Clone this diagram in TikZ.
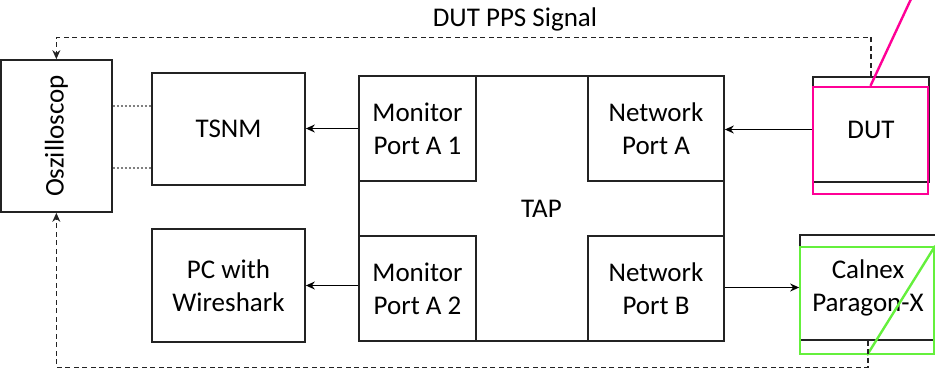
\documentclass[tikz,border=0pt]{standalone}
\usepackage{fontspec}
\setmainfont{Carlito}
\usetikzlibrary{arrows.meta}
\definecolor{boxline}{RGB}{35,35,35}
\definecolor{pinkmark}{RGB}{255,0,150}
\definecolor{greenmark}{RGB}{100,240,60}
\tikzset{
  box/.style={draw=boxline, line width=1.7pt, inner sep=0pt, align=center,
    font=\fontsize{27}{33}\selectfont},
  lbl/.style={inner sep=0pt, align=center, font=\fontsize{27}{33}\selectfont},
  arr/.style={draw=black, line width=1.3pt, -{Stealth[length=9pt,width=8pt]}},
  sig/.style={draw=boxline, line width=1.3pt, dash pattern=on 5pt off 3.5pt, -{Stealth[length=9pt,width=8pt]}},
  dots/.style={draw=gray, line width=1.5pt, dash pattern=on 2pt off 2pt},
  pinkbox/.style={draw=pinkmark, line width=2.4pt, inner sep=0pt},
  greenbox/.style={draw=greenmark, line width=2.4pt, inner sep=0pt},
}
\begin{document}
\begin{tikzpicture}[x=1pt,y=-1pt]
\useasboundingbox (0,0) rectangle (935,368);
% Oszilloscop
\node[box, minimum width=111.3pt, minimum height=152pt] (osc) at (56.35,136) {};
\node[lbl, rotate=90] (osctext) at (osc.center) {Oszilloscop};
% TSNM and PC
\node[box, minimum width=153pt, minimum height=112pt] (tsnm) at (228.5,129) {TSNM};
\node[box, minimum width=153pt, minimum height=113pt] (pc) at (228.5,285.5) {PC with\\Wireshark};
% TAP
\node[box, minimum width=365pt, minimum height=265pt] (tap) at (541.5,208.5) {TAP};
\node[box, minimum width=117pt, minimum height=105pt] (ma1) at (417.5,128.5) {Monitor\\Port A 1};
\node[box, minimum width=136pt, minimum height=105pt] (na) at (656,128.5) {Network\\Port A};
\node[box, minimum width=117pt, minimum height=105pt] (ma2) at (417.5,288.5) {Monitor\\Port A 2};
\node[box, minimum width=136pt, minimum height=105pt] (nb) at (656,288.5) {Network\\Port B};
% DUT
\node[box, minimum width=116pt, minimum height=105pt] (dut) at (871,129.5) {DUT};
\node[pinkbox, minimum width=115pt, minimum height=107pt] (dutmark) at (870.5,140.5) {};
\coordinate (pinkend) at (911,-1);
\draw[draw=pinkmark, line width=2.4pt] (dutmark.north) -- (pinkend);
% Calnex
\node[box, minimum width=136pt, minimum height=105pt] (calnex) at (868,287.5) {Calnex\\Paragon-X};
\node[greenbox, minimum width=134pt, minimum height=107pt] (calnexmark) at (867,300.5) {};
\draw[draw=greenmark, line width=2.4pt] (calnexmark.south) -- (calnexmark.north east);
% connectors
\draw[arr] (ma1.west) -- (ma1.west -| tsnm.east);
\draw[arr] (pc.east -| ma2.west) -- (pc.east);
\draw[arr] (dut.west) -- (dut.west -| na.east);
\draw[arr] (calnex.west -| nb.east) -- (calnex.west);
\draw[dots] ([yshift=30pt]osc.east) -- ([yshift=30pt]osc.east -| tsnm.west);
\draw[dots] ([yshift=-32pt]osc.east) -- ([yshift=-32pt]osc.east -| tsnm.west);
\draw[sig] (dut.north) -- ++(0,-39) -| (osc.north);
\draw[sig] (calnex.south) -- ++(0,26.5) -| (osc.south);
\node[lbl] (pps) at (515,19) {DUT PPS Signal};
\end{tikzpicture}
\end{document}
